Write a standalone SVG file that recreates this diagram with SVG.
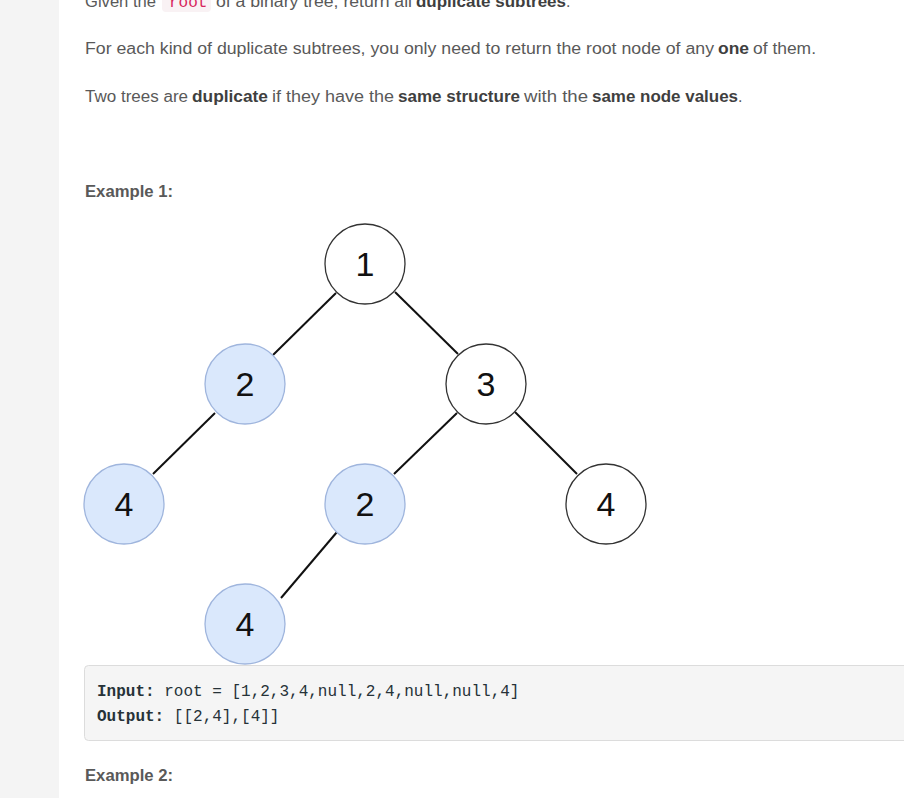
<svg xmlns="http://www.w3.org/2000/svg" width="904" height="798" viewBox="0 0 904 798">
<style>
.t{font-family:"Liberation Sans","DejaVu Sans",sans-serif;font-size:16px;fill:#595959}
.b{font-weight:bold;fill:#3f3f3f}
.h{font-family:"Liberation Sans","DejaVu Sans",sans-serif;font-size:17px;font-weight:bold;fill:#595959}
.m{font-family:"Liberation Mono","DejaVu Sans Mono",monospace;font-size:16px;fill:#263238}
.mb{font-weight:bold}
.nw{fill:#ffffff;stroke:#333333;stroke-width:1.3}
.nb{fill:#dae8fc;stroke:#9fb5dd;stroke-width:1.3}
.nl{font-family:"Liberation Sans","DejaVu Sans",sans-serif;font-size:34px;fill:#111111;text-anchor:middle}
.e{stroke:#111111;stroke-width:2;fill:none}
</style>
<rect x="0" y="0" width="904" height="798" fill="#ffffff"/>
<rect x="0" y="0" width="59" height="798" fill="#f4f4f4"/>

<rect x="162" y="-14" width="49" height="26" rx="4" fill="#f9f2f4"/>
<text class="t" y="7"><tspan x="85" textLength="71" lengthAdjust="spacingAndGlyphs">Given the</tspan></text>
<text class="m" x="169" y="7" style="fill:#d7265c">root</text>
<text class="t" y="7"><tspan x="216" textLength="196" lengthAdjust="spacingAndGlyphs">of a binary tree, return all</tspan><tspan class="b" x="416" textLength="150" lengthAdjust="spacingAndGlyphs">duplicate subtrees</tspan><tspan x="566">.</tspan></text>

<text class="t" y="54"><tspan x="85" textLength="629" lengthAdjust="spacingAndGlyphs">For each kind of duplicate subtrees, you only need to return the root node of any</tspan><tspan class="b" x="718" textLength="31" lengthAdjust="spacingAndGlyphs">one</tspan><tspan x="753" textLength="63" lengthAdjust="spacingAndGlyphs">of them.</tspan></text>

<text class="t" y="102"><tspan x="85" textLength="103" lengthAdjust="spacingAndGlyphs">Two trees are</tspan><tspan class="b" x="192" textLength="76" lengthAdjust="spacingAndGlyphs">duplicate</tspan><tspan x="272" textLength="122" lengthAdjust="spacingAndGlyphs">if they have the</tspan><tspan class="b" x="398" textLength="122" lengthAdjust="spacingAndGlyphs">same structure</tspan><tspan x="524" textLength="64" lengthAdjust="spacingAndGlyphs">with the</tspan><tspan class="b" x="592" textLength="146" lengthAdjust="spacingAndGlyphs">same node values</tspan><tspan x="738">.</tspan></text>

<text class="h" x="85" y="197" textLength="88" lengthAdjust="spacingAndGlyphs">Example 1:</text>

<g id="connectors">
<line class="e" x1="336" y1="293" x2="273" y2="355"/>
<line class="e" x1="395" y1="292" x2="458" y2="354"/>
<line class="e" x1="215" y1="413" x2="153" y2="474"/>
<line class="e" x1="457" y1="413" x2="394" y2="474"/>
<line class="e" x1="515" y1="412" x2="577" y2="474"/>
<line class="e" x1="337" y1="532" x2="281" y2="598"/>
</g>

<g id="n1"><circle class="nw" cx="365" cy="264" r="40"/><text class="nl" x="365" y="276">1</text></g>
<g id="n2"><circle class="nb" cx="245" cy="384" r="40"/><text class="nl" x="245" y="396">2</text></g>
<g id="n3"><circle class="nw" cx="486" cy="384" r="40"/><text class="nl" x="486" y="396">3</text></g>
<g id="n4a"><circle class="nb" cx="124" cy="504" r="40"/><text class="nl" x="124" y="516">4</text></g>
<g id="n2b"><circle class="nb" cx="365" cy="504" r="40"/><text class="nl" x="365" y="516">2</text></g>
<g id="n4c"><circle class="nw" cx="606" cy="504" r="40"/><text class="nl" x="606" y="516">4</text></g>
<g id="n4b"><circle class="nb" cx="245" cy="624" r="40"/><text class="nl" x="245" y="636">4</text></g>

<rect x="84.5" y="665.5" width="830" height="75" rx="4" fill="#f5f5f5" stroke="#dcdcdc"/>
<text class="m" x="97" y="696"><tspan class="mb">Input:</tspan> root = [1,2,3,4,null,2,4,null,null,4]</text>
<text class="m" x="97" y="721"><tspan class="mb">Output:</tspan> [[2,4],[4]]</text>

<text class="h" x="85" y="781" textLength="88" lengthAdjust="spacingAndGlyphs">Example 2:</text>
</svg>
